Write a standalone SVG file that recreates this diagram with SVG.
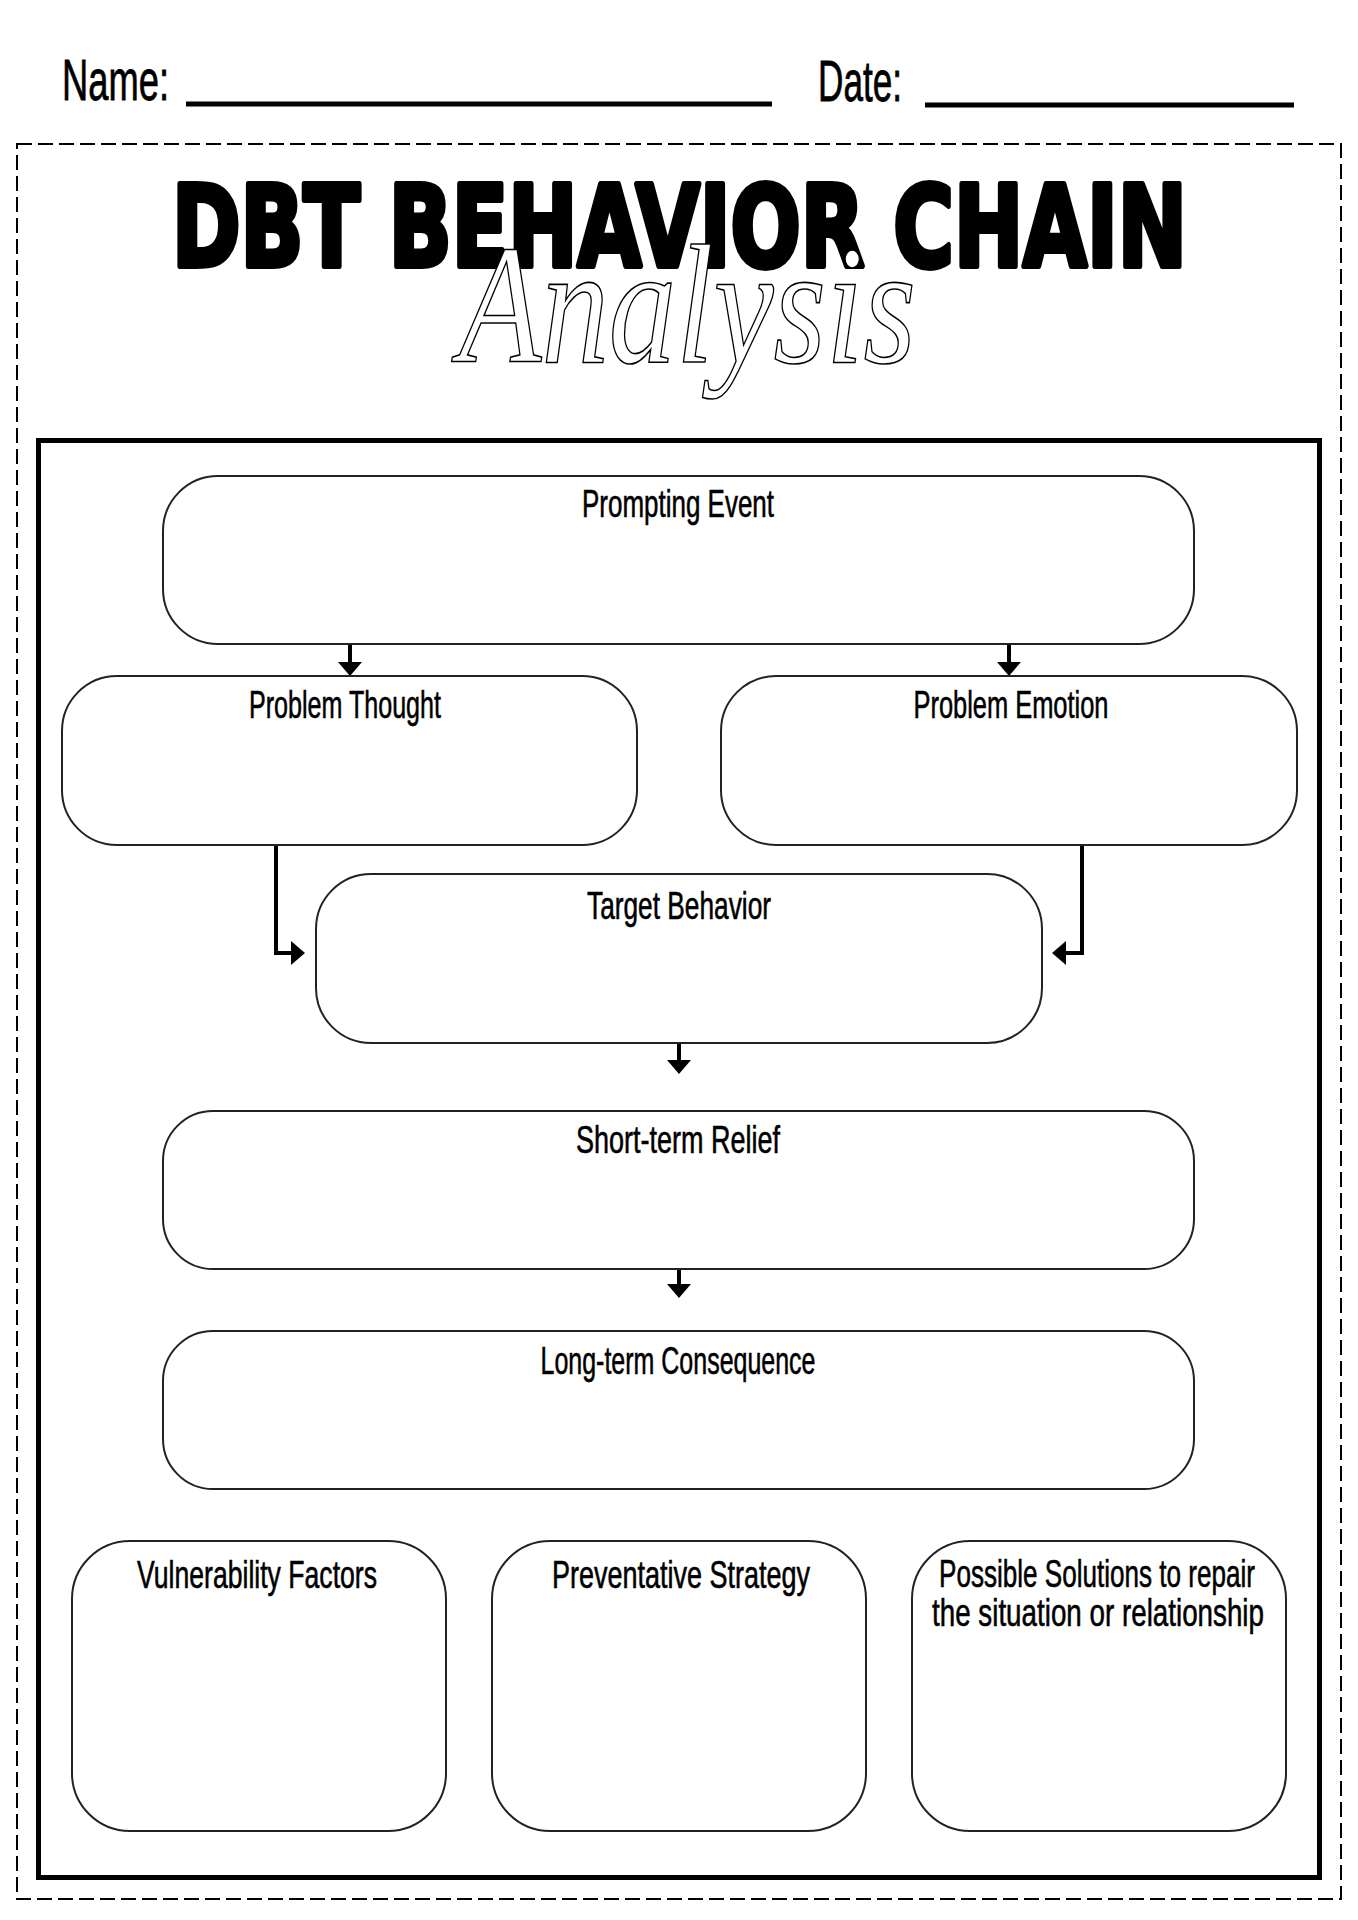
<svg xmlns="http://www.w3.org/2000/svg" width="1358" height="1920" viewBox="0 0 1358 1920">
  <style>
    .box { fill: #fff; stroke: #222; stroke-width: 2; }
    .lbl { font-family: "Liberation Sans", Arial, sans-serif; font-size: 39px; fill: #000; stroke: #000; stroke-width: 0.6; text-anchor: middle; }
    .hdr { font-family: "Liberation Sans", Arial, sans-serif; font-size: 58px; fill: #000; stroke: #000; stroke-width: 0.8; }
    .conn { fill: none; stroke: #000; stroke-width: 4; }
  </style>
  <defs>
    <marker id="arr" viewBox="0 0 14 24" refX="7" refY="12" markerWidth="14" markerHeight="24" orient="auto" markerUnits="userSpaceOnUse">
      <path d="M0,0 L14,12 L0,24 Z" fill="#000"/>
    </marker>
  </defs>
  <rect width="1358" height="1920" fill="#fff"/>

  <g id="header">
    <text class="hdr" x="62" y="100" textLength="107" lengthAdjust="spacingAndGlyphs">Name:</text>
    <line x1="186" y1="104" x2="772" y2="104" stroke="#000" stroke-width="5"/>
    <text class="hdr" x="818" y="101" textLength="84" lengthAdjust="spacingAndGlyphs">Date:</text>
    <line x1="925" y1="105" x2="1294" y2="105" stroke="#000" stroke-width="5"/>
  </g>

  <rect id="dashed-border" x="17" y="144" width="1324" height="1755" fill="none" stroke="#000" stroke-width="2" stroke-dasharray="15 6"/>

  <g id="title">
    <text x="172" y="266" font-family="DejaVu Sans, sans-serif" font-weight="bold" font-size="113" textLength="1015" lengthAdjust="spacingAndGlyphs" fill="#000" stroke="#000" stroke-width="6" stroke-linejoin="round">DBT BEHAVIOR CHAIN</text>
    <text x="459" y="362" font-family="Liberation Serif, serif" font-style="italic" font-size="170" textLength="457" lengthAdjust="spacingAndGlyphs" fill="#fff" stroke="#000" stroke-width="1.6">Analysis</text>
  </g>

  <rect id="frame" x="38.5" y="440.5" width="1281" height="1437" fill="none" stroke="#000" stroke-width="5"/>

  <g id="connectors">
    <path class="conn" d="M350,644 V669" marker-end="url(#arr)"/>
    <path class="conn" d="M1009,644 V669" marker-end="url(#arr)"/>
    <path class="conn" d="M276,845 V953 H298" marker-end="url(#arr)"/>
    <path class="conn" d="M1082,845 V953 H1059" marker-end="url(#arr)"/>
    <path class="conn" d="M679,1043 V1067" marker-end="url(#arr)"/>
    <path class="conn" d="M679,1269 V1291" marker-end="url(#arr)"/>
  </g>

  <g id="prompting-event">
    <rect class="box" x="163" y="476" width="1031" height="168" rx="55" ry="55"/>
    <text class="lbl" x="678" y="517" textLength="192" lengthAdjust="spacingAndGlyphs">Prompting Event</text>
  </g>

  <g id="problem-thought">
    <rect class="box" x="62" y="676" width="575" height="169" rx="55" ry="55"/>
    <text class="lbl" x="345" y="718" textLength="192" lengthAdjust="spacingAndGlyphs">Problem Thought</text>
  </g>

  <g id="problem-emotion">
    <rect class="box" x="721" y="676" width="576" height="169" rx="55" ry="55"/>
    <text class="lbl" x="1011" y="718" textLength="195" lengthAdjust="spacingAndGlyphs">Problem Emotion</text>
  </g>

  <g id="target-behavior">
    <rect class="box" x="316" y="874" width="726" height="169" rx="55" ry="55"/>
    <text class="lbl" x="679" y="919" textLength="184" lengthAdjust="spacingAndGlyphs">Target Behavior</text>
  </g>

  <g id="short-term-relief">
    <rect class="box" x="163" y="1111" width="1031" height="158" rx="50" ry="50"/>
    <text class="lbl" x="678" y="1153" textLength="204" lengthAdjust="spacingAndGlyphs">Short-term Relief</text>
  </g>

  <g id="long-term-consequence">
    <rect class="box" x="163" y="1331" width="1031" height="158" rx="50" ry="50"/>
    <text class="lbl" x="678" y="1374" textLength="275" lengthAdjust="spacingAndGlyphs">Long-term Consequence</text>
  </g>

  <g id="vulnerability-factors">
    <rect class="box" x="72" y="1541" width="374" height="290" rx="58" ry="58"/>
    <text class="lbl" x="257" y="1588" textLength="240" lengthAdjust="spacingAndGlyphs">Vulnerability Factors</text>
  </g>

  <g id="preventative-strategy">
    <rect class="box" x="492" y="1541" width="374" height="290" rx="58" ry="58"/>
    <text class="lbl" x="681" y="1588" textLength="258" lengthAdjust="spacingAndGlyphs">Preventative Strategy</text>
  </g>

  <g id="possible-solutions">
    <rect class="box" x="912" y="1541" width="374" height="290" rx="58" ry="58"/>
    <text class="lbl" x="1097" y="1587" textLength="316" lengthAdjust="spacingAndGlyphs">Possible Solutions to repair</text>
    <text class="lbl" x="1098" y="1626" textLength="332" lengthAdjust="spacingAndGlyphs">the situation or relationship</text>
  </g>
</svg>
